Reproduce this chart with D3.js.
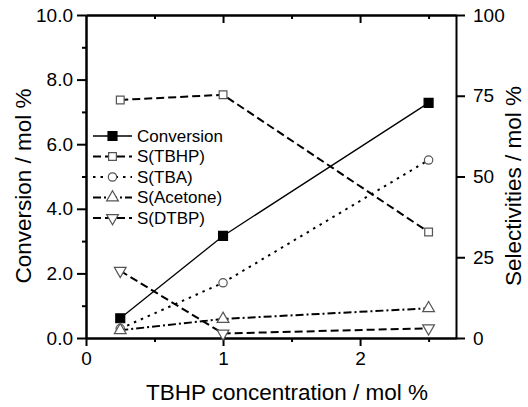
<!DOCTYPE html>
<html>
<head>
<meta charset="utf-8">
<script src="https://cdn.jsdelivr.net/npm/d3@7"></script>
<style>
  body { margin: 0; background: #fff; }
  svg text { font-family: "Liberation Sans", Arial, sans-serif; fill: #000; }
</style>
</head>
<body>
<div id="chart"></div>
<script>
"use strict";

// data
const concentration = [0.25, 1, 2.5];
const conversion = [0.61, 3.16, 7.28];
const sTBHP = [73.7, 75.3, 32.8];
const sTBA = [2.9, 17.1, 55.1];
const sAcetone = [2.4, 5.9, 9.2];
const sDTBP = [20.8, 1.4, 3.0];

const leftTicks = [0, 2, 4, 6, 8, 10];
const rightTicks = [0, 25, 50, 75, 100];
const xTicks = [0, 1, 2];

const W = 528, H = 407;
const plot = { left: 86, right: 456, top: 15, bottom: 338 };

const svg = d3.select("#chart").append("svg")
  .attr("width", W).attr("height", H);

const x = d3.scaleLinear().domain([0, 2.7]).range([plot.left, plot.right]);
const yL = d3.scaleLinear().domain([0, 10]).range([plot.bottom, plot.top]);
const yR = d3.scaleLinear().domain([0, 100]).range([plot.bottom, plot.top]);

// series definitions
const series = [
  { name: "Conversion", values: conversion, y: yL, dash: null, width: 1.3,
    symbol: d3.symbolSquare, size: 80, fill: "#000", stroke: "#000", rotate: 0 },
  { name: "S(TBHP)", values: sTBHP, y: yR, dash: "8,4", width: 2,
    symbol: d3.symbolSquare, size: 60, fill: "#fff", stroke: "#555", rotate: 0 },
  { name: "S(TBA)", values: sTBA, y: yR, dash: "2.5,5", width: 2,
    symbol: d3.symbolCircle, size: 55, fill: "#fff", stroke: "#555", rotate: 0 },
  { name: "S(Acetone)", values: sAcetone, y: yR, dash: "8,3,2,3", width: 2,
    symbol: d3.symbolTriangle, size: 60, fill: "#fff", stroke: "#555", rotate: 0 },
  { name: "S(DTBP)", values: sDTBP, y: yR, dash: "8,4", width: 2,
    symbol: d3.symbolTriangle, size: 60, fill: "#fff", stroke: "#555", rotate: 180 }
];

// axes
const axisG = svg.append("g");
function addAxis(axis, tx, ty) {
  const g = axisG.append("g").attr("transform", `translate(${tx},${ty})`).call(axis);
  g.select(".domain").attr("stroke-width", 2);
  g.selectAll(".tick line").attr("stroke-width", 2);
  g.selectAll(".tick text").style("font-size", "19px");
  return g;
}

// bottom: major outward + minor outward
addAxis(d3.axisBottom(x).tickValues(xTicks).tickFormat(d3.format("d"))
  .tickSize(8).tickSizeOuter(0).tickPadding(6), 0, plot.bottom);
addAxis(d3.axisBottom(x).tickValues([0.5, 1.5, 2.5]).tickFormat("")
  .tickSize(4).tickSizeOuter(0), 0, plot.bottom);
// top: inward ticks
addAxis(d3.axisTop(x).tickValues([1, 2]).tickFormat("")
  .tickSize(-8).tickSizeOuter(0), 0, plot.top);
addAxis(d3.axisTop(x).tickValues([0.5, 1.5, 2.5]).tickFormat("")
  .tickSize(-4).tickSizeOuter(0), 0, plot.top);
// left
addAxis(d3.axisLeft(yL).tickValues(leftTicks).tickFormat(d3.format(".1f"))
  .tickSize(9).tickSizeOuter(0).tickPadding(4), plot.left, 0);
addAxis(d3.axisLeft(yL).tickValues([1, 3, 5, 7, 9]).tickFormat("")
  .tickSize(4).tickSizeOuter(0), plot.left, 0);
// right
addAxis(d3.axisRight(yR).tickValues(rightTicks).tickFormat(d3.format("d"))
  .tickSize(9).tickSizeOuter(0).tickPadding(8), plot.right, 0);

// axis titles
svg.append("text")
  .attr("transform", "translate(31,186) rotate(-90)")
  .attr("text-anchor", "middle")
  .style("font-size", "22.5px")
  .text("Conversion / mol %");
svg.append("text")
  .attr("transform", "translate(521,186) rotate(-90)")
  .attr("text-anchor", "middle")
  .style("font-size", "22.5px")
  .text("Selectivities / mol %");
svg.append("text")
  .attr("x", 287).attr("y", 400)
  .attr("text-anchor", "middle")
  .style("font-size", "22.5px")
  .text("TBHP concentration / mol %");

// lines
const linesG = svg.append("g");
series.forEach(s => {
  const line = d3.line().x((d, i) => x(concentration[i])).y(d => s.y(d));
  linesG.append("path")
    .datum(s.values)
    .attr("d", line)
    .attr("fill", "none")
    .attr("stroke", "#000")
    .attr("stroke-width", s.width)
    .attr("stroke-dasharray", s.dash);
});

// markers
const markG = svg.append("g");
series.forEach(s => {
  markG.selectAll(null)
    .data(s.values)
    .join("path")
    .attr("d", d3.symbol().type(s.symbol).size(s.size))
    .attr("transform", (d, i) =>
      `translate(${x(concentration[i])},${s.y(d)}) rotate(${s.rotate})`)
    .attr("fill", s.fill)
    .attr("stroke", s.stroke)
    .attr("stroke-width", 1.2);
});

// legend
const legend = svg.append("g").attr("transform", "translate(93,136)");
series.forEach((s, i) => {
  const g = legend.append("g").attr("transform", `translate(0,${i * 20.5})`);
  g.append("line")
    .attr("x1", 0).attr("x2", 39).attr("y1", 0).attr("y2", 0)
    .attr("stroke", "#000")
    .attr("stroke-width", s.width)
    .attr("stroke-dasharray", s.dash);
  g.append("path")
    .attr("d", d3.symbol().type(s.symbol).size(s.size))
    .attr("transform", `translate(19.5,0) rotate(${s.rotate})`)
    .attr("fill", s.fill)
    .attr("stroke", s.stroke)
    .attr("stroke-width", 1.2);
  g.append("text")
    .attr("x", 44).attr("y", 0).attr("dy", "0.35em")
    .style("font-size", "17px")
    .text(s.name);
});
</script>
</body>
</html>
